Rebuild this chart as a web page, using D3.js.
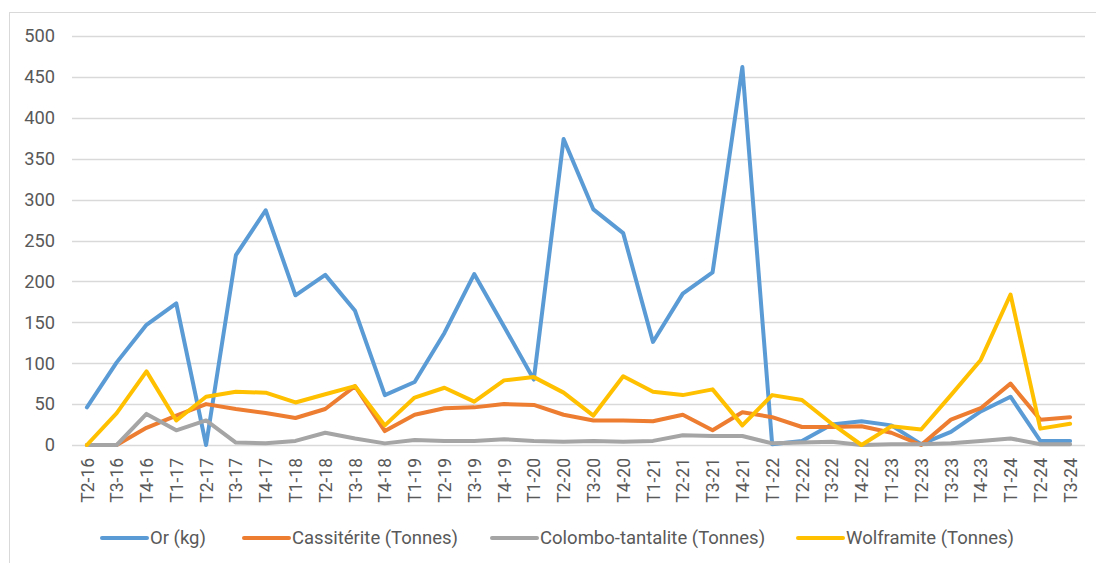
<!DOCTYPE html>
<html>
<head>
<meta charset="utf-8">
<script src="https://cdn.jsdelivr.net/npm/d3@7"></script>
<style>
  body { margin: 0; background: #fff; }
  text { font-family: Roboto, "Liberation Sans", sans-serif; fill: #595959; }
</style>
</head>
<body>
<div id="chart"></div>
<script>
// Data
var quarters = ["T2-16","T3-16","T4-16","T1-17","T2-17","T3-17","T4-17","T1-18","T2-18","T3-18",
  "T4-18","T1-19","T2-19","T3-19","T4-19","T1-20","T2-20","T3-20","T4-20","T1-21",
  "T2-21","T3-21","T4-21","T1-22","T2-22","T3-22","T4-22","T1-23","T2-23","T3-23",
  "T4-23","T1-24","T2-24","T3-24"];

var orKg = [46,101,147,173,0,232,287,183,208,164,
  61,77,137,209,145,80,374,288,259,126,
  185,211,462,1,5,25,29,24,1,16,
  41,59,5,5];

var cassiterite = [0,0,21,36,50,44,39,33,44,72,
  17,37,45,46,50,49,37,30,30,29,
  37,18,40,34,22,22,23,15,0,31,
  45,75,31,34];

var colombo = [0,0,38,18,30,3,2,5,15,8,
  2,6,5,5,7,5,4,5,4,5,
  12,11,11,2,3,4,0,1,1,2,
  5,8,1,1];

var wolframite = [0,39,90,30,59,65,64,52,62,72,
  24,58,70,53,79,83,64,36,84,65,
  61,68,24,61,55,26,0,23,19,61,
  104,184,20,26];

var yTicks = [0,50,100,150,200,250,300,350,400,450,500];

var series = [
  {name: "Or (kg)", values: orKg, color: "#5b9bd5"},
  {name: "Cassitérite (Tonnes)", values: cassiterite, color: "#ed7d31"},
  {name: "Colombo-tantalite (Tonnes)", values: colombo, color: "#a5a5a5"},
  {name: "Wolframite (Tonnes)", values: wolframite, color: "#ffc000"}
];

// Chart config
var W = 1096, H = 563;
var margin = {top: 36, right: 11, bottom: 118, left: 72};
var width = W - margin.left - margin.right,
    height = H - margin.top - margin.bottom;

var svg = d3.select("#chart").append("svg")
    .attr("width", W)
    .attr("height", H);

// outer border of chart area
svg.append("rect")
    .attr("x", 9.5).attr("y", 12.5)
    .attr("width", W).attr("height", H)
    .attr("fill", "none")
    .attr("stroke", "#d9d9d9");

var g = svg.append("g")
    .attr("transform", "translate(" + margin.left + "," + margin.top + ")");

var xScale = d3.scalePoint().domain(quarters).range([0, width]).padding(0.5);
var yScale = d3.scaleLinear().domain([0, 500]).range([height, 0]);

// gridlines
g.append("g").selectAll("line")
  .data(yTicks)
  .enter().append("line")
    .attr("x1", 0).attr("x2", width)
    .attr("y1", function(d) { return Math.round(yScale(d)) + 0.5; })
    .attr("y2", function(d) { return Math.round(yScale(d)) + 0.5; })
    .attr("stroke", "#d9d9d9")
    .attr("stroke-width", 1.3);

// y axis
var yAxis = d3.axisLeft(yScale).tickValues(yTicks).tickSize(0).tickPadding(17);
var yAxisEl = g.append("g").call(yAxis);
yAxisEl.select(".domain").remove();
yAxisEl.selectAll("text").style("font-size", "18.3px").attr("fill", "#595959");

// x axis
var xAxis = d3.axisBottom(xScale).tickSize(0).tickPadding(0);
var xAxisEl = g.append("g")
    .attr("transform", "translate(0," + height + ")")
    .call(xAxis);
xAxisEl.select(".domain").remove();
xAxisEl.selectAll("text")
    .style("font-size", "17.5px")
    .attr("fill", "#595959")
    .attr("text-anchor", "end")
    .attr("transform", "rotate(-90)")
    .attr("x", -13)
    .attr("y", 0)
    .attr("dy", "0.35em");

// lines
var line = d3.line()
    .x(function(d, i) { return xScale(quarters[i]); })
    .y(function(d) { return yScale(d); });

g.selectAll(".series")
  .data(series)
  .enter().append("path")
    .attr("class", "series")
    .attr("d", function(s) { return line(s.values); })
    .attr("fill", "none")
    .attr("stroke", function(s) { return s.color; })
    .attr("stroke-width", 4)
    .attr("stroke-linejoin", "round")
    .attr("stroke-linecap", "round");

// legend
var legendX = [102, 244, 492, 798];
var legend = svg.append("g").attr("transform", "translate(0,538)");
var items = legend.selectAll("g")
  .data(series)
  .enter().append("g")
    .attr("transform", function(s, i) { return "translate(" + legendX[i] + ",0)"; });
items.append("line")
    .attr("x1", 0).attr("x2", 45)
    .attr("stroke", function(s) { return s.color; })
    .attr("stroke-width", 4)
    .attr("stroke-linecap", "round");
items.append("text")
    .attr("x", 48)
    .attr("dy", "0.35em")
    .style("font-size", "18.5px")
    .text(function(s) { return s.name; });
</script>
</body>
</html>
